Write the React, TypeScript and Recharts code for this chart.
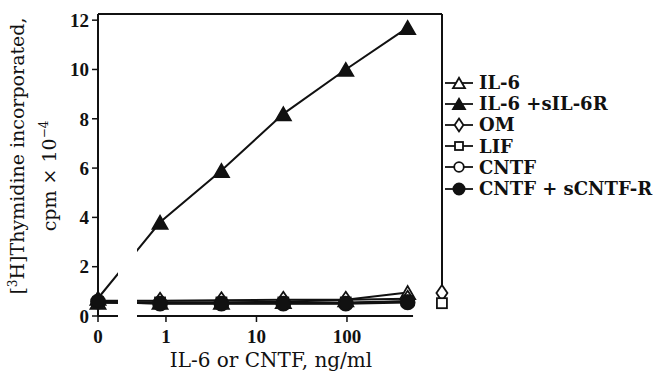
import React from "react";
import {
  Line,
  LineChart,
  ReferenceArea,
  ReferenceLine,
  XAxis,
  YAxis,
} from "recharts";

// concentrations, ng/ml (0 = no cytokine, drawn left of the axis break)
const CONC = [0, 0.86, 4.1, 19.8, 97, 468];
const IL6 = [0.55, 0.55, 0.55, 0.58, 0.66, 0.95];
const IL6_SR = [0.72, 3.8, 5.9, 8.2, 10.0, 11.7];
const OM = [0.62, 0.62, 0.64, 0.66, 0.66, 0.7];
const LIF = [0.55, 0.55, 0.55, 0.55, 0.55, 0.6];
const CNTF = [0.55, 0.52, 0.52, 0.52, 0.52, 0.6];
const CNTF_SR = [0.58, 0.5, 0.5, 0.5, 0.5, 0.55];

// stray points sitting on the right frame
const RIGHT_CONC = 1120;
const RIGHT_OM = 0.93;
const RIGHT_LIF = 0.52;

const X_TICKS = [0, 1, 10, 100];
const Y_TICKS = [0, 2, 4, 6, 8, 10, 12];

// log axis in decades; the "0" dose is parked at the left edge
const ZERO_POS = -0.751;
const X_MAX = 3.05;
const Y_MAX = 12.25;
const GAP = [-0.53, -0.32];
const AXIS_END = 2.73;

const pos = (c: number) => (c === 0 ? ZERO_POS : Math.log10(c));

const data = CONC.map((c, i) => ({
  x: pos(c),
  il6: IL6[i],
  il6sr: IL6_SR[i],
  om: OM[i],
  lif: LIF[i],
  cntf: CNTF[i],
  cntfsr: CNTF_SR[i],
}));
data.push({ x: pos(RIGHT_CONC), omR: RIGHT_OM, lifR: RIGHT_LIF } as any);

const INK = "#111";

type Shape = "triangle" | "diamond" | "square" | "circle";

function Marker({ shape, filled, cx, cy, s = 1 }: { shape: Shape; filled: boolean; cx: number; cy: number; s?: number }) {
  const fill = filled ? INK : "#fff";
  const common = { fill, stroke: INK, strokeWidth: 1.8 };
  if (shape === "triangle") {
    const w = 7.5 * s;
    const h = 13 * s;
    return <polygon {...common} points={`${cx - w},${cy + h / 2} ${cx + w},${cy + h / 2} ${cx},${cy - h / 2}`} />;
  }
  if (shape === "diamond") {
    const w = 5.5 * s;
    const h = 8 * s;
    return <polygon {...common} points={`${cx},${cy - h} ${cx + w},${cy} ${cx},${cy + h} ${cx - w},${cy}`} />;
  }
  if (shape === "square") {
    const r = 5 * s;
    return <rect {...common} x={cx - r} y={cy - r} width={2 * r} height={2 * r} />;
  }
  return <circle {...common} cx={cx} cy={cy} r={(filled ? 7 : 6) * s} />;
}

const dot = (shape: Shape, filled: boolean) => (p: any) => {
  const key = `${shape}-${filled}-${p.index}`;
  if (p.cy == null || p.value == null) return <g key={key} />;
  return (
    <g key={key}>
      <Marker shape={shape} filled={filled} cx={p.cx} cy={p.cy} />
    </g>
  );
};

const SERIES: { key: string; name: string; shape: Shape; filled: boolean }[] = [
  { key: "il6", name: "IL-6", shape: "triangle", filled: false },
  { key: "il6sr", name: "IL-6 +sIL-6R", shape: "triangle", filled: true },
  { key: "om", name: "OM", shape: "diamond", filled: false },
  { key: "lif", name: "LIF", shape: "square", filled: false },
  { key: "cntf", name: "CNTF", shape: "circle", filled: false },
  { key: "cntfsr", name: "CNTF + sCNTF-R", shape: "circle", filled: true },
];

function LegendBox() {
  return (
    <div
      style={{
        position: "absolute",
        left: 444,
        top: 72,
        fontFamily: "'DejaVu Serif', serif",
        fontWeight: 700,
        fontSize: 18,
        color: INK,
        whiteSpace: "nowrap",
      }}
    >
      {SERIES.map((s) => (
        <div key={s.key} style={{ display: "flex", alignItems: "center", height: 21.2 }}>
          <svg width={32} height={20} style={{ marginRight: 3 }}>
            <line x1={1} y1={10} x2={29} y2={10} stroke={INK} strokeWidth={1.8} />
            <Marker shape={s.shape} filled={s.filled} cx={15} cy={10} s={0.8} />
          </svg>
          <span>{s.name}</span>
        </div>
      ))}
    </div>
  );
}

const tickStyle = { fontFamily: "'Liberation Serif', serif", fontWeight: 700, fontSize: 19, fill: INK };
const titleFont = "'DejaVu Serif', serif";

export default function App() {
  return (
    <div style={{ position: "absolute", left: 0, top: 0, width: 654, height: 379, background: "#fff" }}>
      <LineChart width={654} height={379} data={data} margin={{ top: 14, right: 212, bottom: 33, left: 0 }}>
        <XAxis
          dataKey="x"
          type="number"
          domain={[ZERO_POS, X_MAX]}
          ticks={X_TICKS.map(pos)}
          tickFormatter={(v: number) => String(X_TICKS[X_TICKS.map(pos).findIndex((t) => Math.abs(t - v) < 1e-6)])}
          axisLine={false}
          tickLine={{ stroke: INK, strokeWidth: 1.5 }}
          tickSize={6}
          tickMargin={8}
          height={30}
          tick={tickStyle}
          label={{
            content: () => (
              <text x={271} y={367} textAnchor="middle" fontFamily={titleFont} fontSize={20} fill={INK}>
                IL-6 or CNTF, ng/ml
              </text>
            ),
          }}
        />
        <YAxis
          type="number"
          domain={[0, Y_MAX]}
          ticks={Y_TICKS}
          width={98}
          axisLine={{ stroke: INK, strokeWidth: 2 }}
          tickLine={{ stroke: INK, strokeWidth: 1.5 }}
          tickSize={6}
          tickMargin={3}
          tick={tickStyle}
          label={{
            content: () => (
              <g fontFamily={titleFont} fontSize={19} fill={INK}>
                <text transform="translate(24,156) rotate(-90)" textAnchor="middle">
                  [<tspan fontSize={12} dy={-7}>3</tspan>
                  <tspan dy={7}>H]Thymidine incorporated,</tspan>
                </text>
                <text transform="translate(56,176) rotate(-90)" textAnchor="middle">
                  cpm × 10<tspan fontSize={12} dy={-8}>−4</tspan>
                </text>
              </g>
            ),
          }}
        />
        <ReferenceLine y={Y_MAX} stroke={INK} strokeWidth={2} ifOverflow="visible" />
        <ReferenceLine
          segment={[{ x: X_MAX, y: RIGHT_OM + 0.3 }, { x: X_MAX, y: Y_MAX }]}
          stroke={INK}
          strokeWidth={2}
          ifOverflow="visible"
        />
        <ReferenceLine
          segment={[{ x: ZERO_POS, y: 0 }, { x: AXIS_END, y: 0 }]}
          stroke={INK}
          strokeWidth={2}
          ifOverflow="visible"
        />
        {SERIES.map((s) => (
          <Line
            key={s.key}
            dataKey={s.key}
            name={s.name}
            stroke={INK}
            strokeWidth={2}
            dot={dot(s.shape, s.filled)}
            activeDot={false}
            isAnimationActive={false}
          />
        ))}
        <Line dataKey="omR" stroke="none" dot={dot("diamond", false)} isAnimationActive={false} legendType="none" />
        <Line dataKey="lifR" stroke="none" dot={dot("square", false)} isAnimationActive={false} legendType="none" />
        <ReferenceArea
          x1={GAP[0]}
          x2={GAP[1]}
          y1={-0.4}
          y2={3.4}
          fill="#fff"
          fillOpacity={1}
          stroke="none"
          ifOverflow="visible"
          zIndex={1500}
        />
      </LineChart>
      <LegendBox />
    </div>
  );
}
